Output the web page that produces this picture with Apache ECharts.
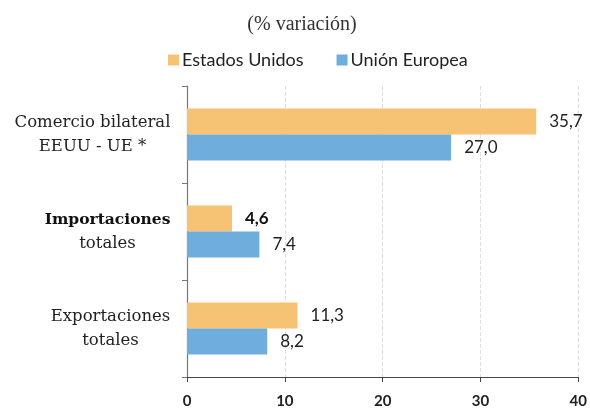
<!DOCTYPE html>
<html>
<head>
<meta charset="utf-8">
<script src="https://cdn.jsdelivr.net/npm/echarts@6/dist/echarts.min.js"></script>
<style>
  html, body { margin: 0; padding: 0; background: #fff; }
  #chart { width: 590px; height: 409px; }
</style>
</head>
<body>
<div id="chart"></div>
<script>
// categories top to bottom
const categories = ["Comercio bilateral\nEEUU - UE *", "Importaciones\ntotales", "Exportaciones\ntotales"];
const usValues = [35.7, 4.6, 11.3];
const euValues = [27.0, 7.4, 8.2];
const xTicks = [0, 10, 20, 30, 40];

const serif = "'DejaVu Serif', 'Liberation Serif', serif";
const sans = "Lato, 'Open Sans', sans-serif";
const catSize = 16.5;
const boldSize = 15.5;

// measure the widest line of each label so its lines can be centred in a right-aligned block
const ctx = document.createElement("canvas").getContext("2d");
const isBold = (i, j) => i === 1 && j === 0;
const blockW = categories.map((c, i) =>
  Math.max(
    ...c.split("\n").map((s, j) => {
      ctx.font = isBold(i, j) ? "bold " + boldSize + "px " + serif : catSize + "px " + serif;
      return Math.ceil(ctx.measureText(s).width) + 1;
    })
  )
);

const fmt = (v) => v.toFixed(1).replace(".", ",");

const rich = {};
blockW.forEach((w, i) => {
  rich["n" + i] = { width: w, align: "center", fontFamily: serif, fontSize: catSize, lineHeight: 24, color: "#222" };
  rich["b" + i] = { width: w, align: "center", fontFamily: serif, fontSize: boldSize, lineHeight: 24, color: "#111", fontWeight: "bold" };
});

const chart = echarts.init(document.getElementById("chart"));
chart.setOption({
  animation: false,
  title: {
    text: "(% variación)",
    left: 297,
    textAlign: "center",
    top: 10,
    textStyle: { fontFamily: "'Liberation Serif', serif", fontSize: 20, fontWeight: "normal", color: "#333" },
  },
  legend: {
    top: 46,
    left: 163,
    itemWidth: 11,
    itemHeight: 11,
    itemGap: 33,
    icon: "rect",
    textStyle: { fontFamily: sans, fontSize: 18, color: "#222", padding: [0, 0, 0, -2] },
    data: ["Estados Unidos", "Unión Europea"],
  },
  grid: { left: 187, right: 10, top: 86, bottom: 28, containLabel: false },
  xAxis: {
    type: "value",
    min: 0,
    max: 40,
    interval: 10,
    axisLine: { show: true, lineStyle: { color: "#444", width: 1.2 } },
    axisTick: { show: true, length: 5, lineStyle: { color: "#444" } },
    axisLabel: {
      margin: 17,
      fontFamily: sans,
      fontSize: 15,
      fontWeight: "bold",
      color: "#222",
      formatter: (v) => (xTicks.includes(v) ? String(v) : ""),
    },
    splitLine: { show: true, lineStyle: { color: "#ddd", type: "dashed" } },
  },
  yAxis: {
    type: "category",
    inverse: true,
    data: categories,
    axisLine: { show: true, lineStyle: { color: "#777", width: 1.2 } },
    axisTick: { show: true, length: 5, lineStyle: { color: "#777" } },
    axisLabel: {
      margin: 16,
      fontFamily: serif,
      fontSize: catSize,
      color: "#222",
      lineHeight: 24,
      formatter: (v, i) =>
        v.split("\n").map((s, j) => "{" + (isBold(i, j) ? "b" : "n") + i + "|" + s + "}").join("\n"),
      rich: rich,
    },
  },
  series: [
    {
      name: "Estados Unidos",
      type: "bar",
      data: usValues.map((v, i) =>
        i === 1 ? { value: v, label: { fontWeight: "bold", color: "#111" } } : v
      ),
      barWidth: 26,
      barGap: "0%",
      itemStyle: { color: "#F5C373" },
      label: {
        show: true,
        position: "right",
        distance: 13,
        fontFamily: sans,
        fontSize: 17,
        color: "#222",
        formatter: (p) => fmt(p.value),
      },
    },
    {
      name: "Unión Europea",
      type: "bar",
      data: euValues,
      barWidth: 26,
      barGap: "0%",
      itemStyle: { color: "#6FADDC" },
      label: {
        show: true,
        position: "right",
        distance: 13,
        fontFamily: sans,
        fontSize: 17,
        color: "#222",
        formatter: (p) => fmt(p.value),
      },
    },
  ],
});
</script>
</body>
</html>
